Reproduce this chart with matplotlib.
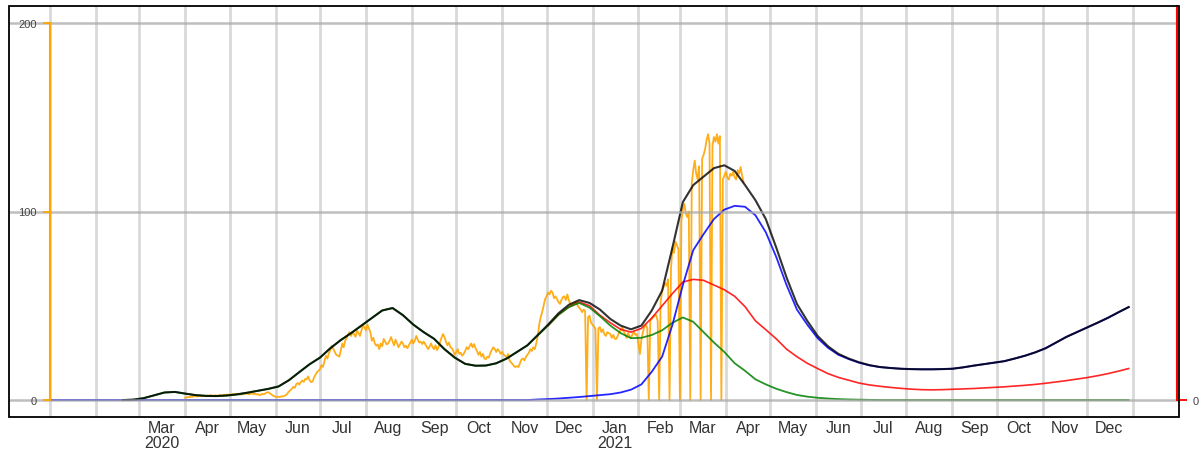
import numpy as np
import pandas as pd
import matplotlib
matplotlib.use('Agg')
import matplotlib.pyplot as plt
import matplotlib.dates as mdates
from matplotlib.patches import Rectangle

plt.rcParams['font.family'] = ['Liberation Sans', 'DejaVu Sans']

nan = np.nan

# smoothed curves, one point a week (Wed 1 Jan 2020 .. Wed 29 Dec 2021)
week_dates = pd.date_range('2020-01-01', periods=105, freq='7D')

smoothed = [
    nan, nan, nan, nan, nan, nan, nan, 0.0, 0.2, 1.0, 2.5, 4.0, 4.3, 3.4,
    2.6, 2.2, 2.1, 2.4, 3.0, 3.9, 4.9, 5.9, 7.2, 10.5, 14.8, 19.0, 22.5, 27.5,
    31.8, 35.5, 39.5, 43.5, 47.5, 48.8, 45.0, 40.0, 36.0, 32.5, 27.0, 22.5, 19.2, 18.2,
    18.3, 19.5, 22.0, 25.5, 29.0, 34.5, 40.0, 46.0, 50.5, 53.0, 51.5, 48.0, 43.0, 39.5,
    37.5, 39.5, 47.5, 58.0, 81.0, 105.0, 114.0, 118.5, 123.0, 124.5, 121.5, 114.0, 106.0, 96.0,
    81.0, 65.0, 51.0, 42.0, 34.0, 28.5, 24.5, 22.0, 20.0, 18.5, 17.5, 17.0, 16.6, 16.4,
    16.3, 16.3, 16.4, 16.6, 17.3, 18.2, 19.0, 19.8, 20.6, 22.0, 23.5, 25.3, 27.5, 30.5,
    33.5, 36.0, 38.5, 41.0, 43.6, 46.5, 49.3,
]

old_variant = [
    nan, nan, nan, nan, nan, nan, nan, 0.0, 0.2, 1.0, 2.5, 4.0, 4.3, 3.4,
    2.6, 2.2, 2.1, 2.4, 3.0, 3.9, 4.9, 5.9, 7.2, 10.5, 14.8, 19.0, 22.5, 27.5,
    31.8, 35.5, 39.5, 43.5, 47.5, 48.8, 45.0, 40.0, 36.0, 32.5, 27.0, 22.5, 19.2, 18.2,
    18.3, 19.5, 22.0, 25.5, 29.0, 34.2, 39.5, 45.2, 49.3, 51.5, 49.0, 44.5, 39.5, 35.5,
    32.8, 33.0, 34.5, 37.0, 41.0, 43.8, 41.5, 36.0, 30.5, 25.5, 19.5, 15.5, 11.0, 8.3,
    6.0, 4.2, 2.7, 1.8, 1.2, 0.8, 0.5, 0.3, 0.2, 0.1, 0.0, 0.0, 0.0, 0.0,
    0.0, 0.0, 0.0, 0.0, 0.0, 0.0, 0.0, 0.0, 0.0, 0.0, 0.0, 0.0, 0.0, 0.0,
    0.0, 0.0, 0.0, 0.0, 0.0, 0.0, 0.0,
]

model_red = [
    nan, nan, nan, nan, nan, nan, nan, nan, nan, nan, nan, nan, nan, nan,
    nan, nan, nan, nan, nan, nan, nan, nan, nan, nan, nan, nan, nan, nan,
    nan, nan, nan, nan, nan, nan, nan, nan, nan, nan, nan, nan, nan, nan,
    nan, nan, nan, nan, nan, nan, 39.5, 45.2, 49.3, 52.0, 50.0, 45.0, 41.0, 37.5,
    36.0, 38.0, 43.5, 50.0, 56.5, 62.6, 64.0, 63.5, 61.0, 58.5, 55.0, 49.5, 42.0, 37.3,
    32.5, 27.0, 23.0, 19.5, 16.7, 14.0, 12.0, 10.5, 9.0, 8.0, 7.3, 6.7, 6.2, 5.8,
    5.5, 5.4, 5.5, 5.7, 5.9, 6.1, 6.4, 6.7, 7.0, 7.4, 7.8, 8.3, 8.9, 9.6,
    10.3, 11.1, 11.9, 12.9, 14.0, 15.3, 16.7,
]

new_variant = [
    0.0, 0.0, 0.0, 0.0, 0.0, 0.0, 0.0, 0.0, 0.0, 0.0, 0.0, 0.0, 0.0, 0.0,
    0.0, 0.0, 0.0, 0.0, 0.0, 0.0, 0.0, 0.0, 0.0, 0.0, 0.0, 0.0, 0.0, 0.0,
    0.0, 0.0, 0.0, 0.0, 0.0, 0.0, 0.0, 0.0, 0.0, 0.0, 0.0, 0.0, 0.0, 0.0,
    0.0, 0.0, 0.0, 0.0, 0.0, 0.3, 0.5, 0.8, 1.2, 1.6, 2.1, 2.6, 3.1, 4.0,
    5.5, 8.3, 15.0, 23.0, 40.0, 61.0, 79.5, 88.0, 96.0, 101.0, 103.0, 102.5, 98.0, 89.0,
    76.0, 61.0, 48.0, 40.0, 32.8, 27.7, 24.0, 21.7, 19.8, 18.4, 17.5, 17.0, 16.6, 16.4,
    16.3, 16.3, 16.4, 16.6, 17.3, 18.2, 19.0, 19.8, 20.6, 22.0, 23.5, 25.3, 27.5, 30.5,
    33.5, 36.0, 38.5, 41.0, 43.6, 46.5, 49.3,
]

# daily reported numbers, 1 Apr 2020 .. 13 Apr 2021 (one row per week)
daily_dates = pd.date_range('2020-04-01', periods=378, freq='D')
daily = [
    1.2, 1.4, 1.6, 1.5, 1.8, 1.7, 2.0,
    2.2, 1.9, 2.1, 2.4, 2.0, 2.3, 2.2,
    2.0, 2.4, 2.2, 2.6, 2.3, 2.1, 2.5,
    2.4, 2.2, 2.7, 2.5, 2.3, 2.8, 2.6,
    2.9, 2.6, 3.0, 2.7, 3.2, 2.9, 3.1,
    3.0, 3.4, 2.8, 3.3, 3.1, 3.6, 3.2,
    3.5, 3.0, 3.3, 3.8, 3.1, 3.4, 2.9,
    3.2, 2.6, 2.8, 3.3, 3.0, 3.5, 3.9,
    4.2, 3.6, 3.1, 2.5, 2.0, 1.8, 1.6,
    1.7, 1.6, 2.0, 1.9, 2.3, 2.6, 3.5,
    4.5, 5.2, 6.0, 7.0, 6.5, 8.5, 9.0,
    8.2, 9.5, 10.3, 9.6, 11.2, 11.0, 12.5,
    10.5, 9.5, 9.8, 12.0, 13.5, 14.8, 15.5,
    16.4, 18.5, 17.6, 20.5, 23.5, 22.0, 25.0,
    26.5, 28.8, 27.0, 25.5, 24.0, 23.5, 23.0,
    26.0, 30.0, 28.0, 31.5, 33.0, 35.0, 36.0,
    34.0, 36.0, 35.0, 33.5, 36.8, 35.5, 34.0,
    37.0, 39.8, 38.5, 37.0, 40.0, 38.0, 36.0,
    31.5, 33.0, 30.0, 28.8, 29.5, 27.0, 30.0,
    28.5, 32.4, 31.0, 29.5, 30.0, 31.5, 33.4,
    31.0, 29.0, 32.0, 30.0, 28.0, 29.5, 31.0,
    30.0, 28.0, 28.8, 27.5, 29.0, 30.5, 32.0,
    30.0, 31.5, 34.0, 32.0, 30.5, 31.0, 29.7,
    31.0, 29.7, 28.5, 27.0, 28.5, 30.0, 28.0,
    27.0, 29.0, 26.5, 28.0, 30.5, 33.0, 35.0,
    33.5, 31.0, 29.0, 30.5, 28.0, 27.5, 26.0,
    24.0, 25.5, 27.0, 24.5, 25.0, 23.5, 24.5,
    26.0, 28.0, 27.0, 28.5, 30.0, 28.0, 29.7,
    27.5, 26.0, 24.0, 25.5, 23.0, 24.5, 22.0,
    21.7, 23.0, 22.5, 25.0, 26.5, 28.0, 27.0,
    25.5, 27.0, 26.0, 24.5, 25.5, 24.0, 23.5,
    22.5, 24.4, 21.0, 20.0, 19.0, 18.0, 17.5,
    18.0, 17.5, 19.5, 21.5, 22.0, 21.0, 22.8,
    24.0, 25.0, 27.0, 26.0, 28.0, 27.0, 30.0,
    34.0, 40.0, 44.0, 46.6, 50.0, 53.6, 55.0,
    57.0, 56.0, 58.0, 57.0, 54.0, 55.0, 53.6,
    52.0, 51.0, 53.0, 54.6, 55.0, 53.0, 56.0,
    53.0, 51.0, 50.0, 51.0, 52.0, 52.0, 50.0,
    49.0, 48.0, 46.6, 48.0, 47.0, 0.0, 44.0,
    44.7, 41.0, 40.0, 39.0, 37.7, 0.0, 38.0,
    38.7, 36.0, 37.5, 35.0, 34.0, 36.0, 35.5,
    35.0, 33.0, 34.5, 32.5, 32.4, 34.0, 36.0,
    37.0, 38.7, 36.5, 35.0, 33.0, 35.5, 34.0,
    33.0, 35.0, 36.0, 34.5, 35.0, 30.0, 24.4,
    32.0, 36.0, 38.7, 40.0, 38.0, 0.0, 42.0,
    43.0, 44.0, 44.7, 45.0, 42.0, 0.0, 52.0,
    58.0, 60.0, 62.0, 60.6, 64.0, 0.0, 70.0,
    81.0, 78.0, 84.0, 82.0, 80.0, 0.0, 95.0,
    101.0, 104.0, 99.0, 97.0, 100.0, 0.0, 115.0,
    122.0, 127.0, 120.0, 117.0, 124.0, 0.0, 128.0,
    130.0, 133.0, 138.0, 141.0, 136.0, 0.0, 135.0,
    139.5, 137.0, 141.0, 136.0, 140.0, 0.0, 117.0,
    119.0, 121.0, 118.0, 117.0, 120.0, 119.0, 121.0,
    118.0, 117.0, 122.0, 120.0, 123.6, 119.0, 115.6,
]

month_starts = pd.date_range('2020-01-01', '2022-01-01', freq='MS')
# month names sit in the middle of each month
label_dates = pd.date_range('2020-03-01', periods=22, freq='MS') + pd.Timedelta(days=15)
month_labels = ['Mar\n2020', 'Apr', 'May', 'Jun', 'Jul', 'Aug', 'Sep', 'Oct', 'Nov', 'Dec',
                'Jan\n2021', 'Feb', 'Mar', 'Apr', 'May', 'Jun', 'Jul', 'Aug', 'Sep', 'Oct',
                'Nov', 'Dec']

fig = plt.figure(figsize=(12.03, 4.52), dpi=100)
ax = fig.add_axes([9 / 1203, 34 / 452, 1170 / 1203, 411 / 452])

ax.plot(daily_dates, daily, color='#ffa500', lw=1.3, alpha=0.9, zorder=2)
ax.plot(week_dates, model_red, color='red', lw=1.2, alpha=0.85, zorder=3)
ax.plot(week_dates, old_variant, color='green', lw=1.3, alpha=0.85, zorder=4)
ax.plot(week_dates, new_variant, color='blue', lw=1.3, alpha=0.85, zorder=5)
ax.plot(week_dates, smoothed, color='black', lw=1.5, alpha=0.8, zorder=6)

for m in month_starts:
    ax.axvline(m, color='#d9d9d9', lw=2, zorder=1)
for v in (0, 100, 200):
    ax.axhline(v, color='#aaaaaa', alpha=0.76, lw=1.8, zorder=7)

ax.set_xlim(pd.Timestamp('2019-12-04'), pd.Timestamp('2022-02-01'))
ax.set_ylim(-9, 209)

# orange value axis standing at 1 Jan 2020
for s in ('top', 'right', 'bottom'):
    ax.spines[s].set_visible(False)
left = ax.spines['left']
left.set_position(('data', mdates.date2num(pd.Timestamp('2020-01-01'))))
left.set_bounds(0, 200)
left.set_color('#ffa500')
left.set_linewidth(1.5)
left.set_zorder(8)
ax.set_yticks([0, 100, 200])
ax.tick_params(axis='y', colors='#ffa500', labelcolor='#444444', length=5, width=1.3,
               pad=5, labelsize=8)
ax.yaxis.set_zorder(8)

ax.set_xticks(month_starts)
ax.set_xticklabels([])
ax.set_xticks(label_dates, minor=True)
ax.set_xticklabels(month_labels, minor=True)
ax.tick_params(axis='x', which='major', length=0)
ax.tick_params(axis='x', which='minor', length=0, pad=2, labelsize=11.5, labelcolor='#333333')
for lbl in ax.get_xticklabels(minor=True):
    lbl.set_linespacing(1.0)

# red axis on the right
ax2 = ax.twinx()
ax2.set_ylim(ax.get_ylim())
for s in ('top', 'left', 'bottom'):
    ax2.spines[s].set_visible(False)
right = ax2.spines['right']
right.set_position(('axes', 0.9985))
right.set_bounds(0, 209)
right.set_color('red')
right.set_linewidth(1.5)
ax2.set_yticks([0])
ax2.tick_params(axis='y', colors='red', labelcolor='#444444', length=7, width=1.3,
                pad=4, labelsize=8)

ax2.add_patch(Rectangle((0, 0), 1, 1, transform=ax2.transAxes, fill=False,
                        ec='black', lw=1.3, clip_on=False, zorder=10))

fig.savefig('out.png', dpi=100)
